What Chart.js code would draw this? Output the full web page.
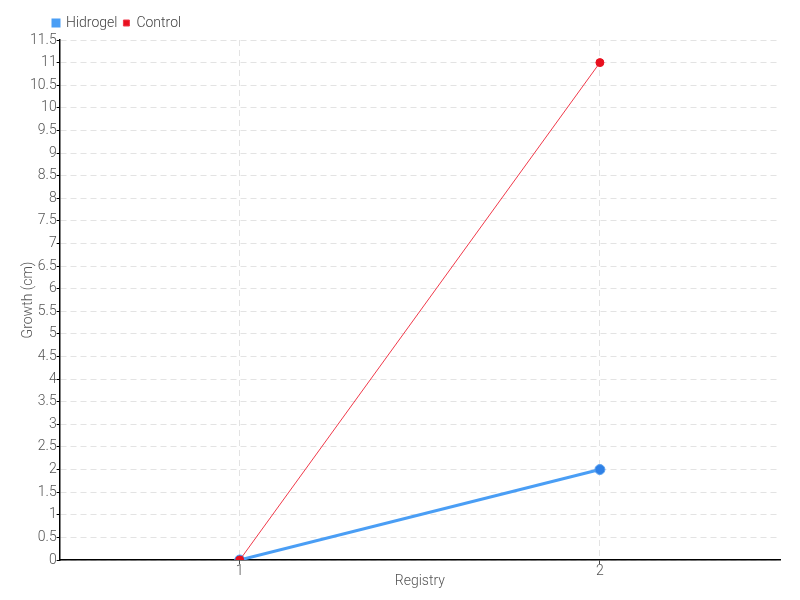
<!DOCTYPE html>
<html>
<head>
  <title>Growth</title>
  <script src="https://cdn.jsdelivr.net/npm/chart.js"></script>
  <style>
    body { margin: 0; background: #fff; }
    #wrap { width: 800px; height: 600px; }
  </style>
</head>
<body>
  <div id="wrap"><canvas id="growthChart" width="800" height="600"></canvas></div>
  <script>
    const registry = ['1', '2'];
    const hidrogel = [0, 2];
    const control = [0, 11];

    const font = "Roboto, 'Noto Sans', sans-serif";
    Chart.defaults.font.family = font;
    Chart.defaults.font.weight = 300;
    Chart.defaults.color = '#555';

    // nudge the legend to the right, like the original
    const legendShift = {
      id: 'legendShift',
      afterLayout(chart) {
        chart.legend.left += 26;
      }
    };

    const ctx = document.getElementById('growthChart').getContext('2d');
    new Chart(ctx, {
      type: 'line',
      data: {
        labels: registry,
        datasets: [{
          label: 'Hidrogel',
          data: hidrogel,
          borderColor: '#4a9ef5',
          backgroundColor: '#4a9ef5',
          borderWidth: 3,
          pointRadius: 5,
          pointBackgroundColor: '#2f80e6',
          pointBorderColor: '#5aa2f0',
          pointBorderWidth: 1,
          order: 1
        }, {
          label: 'Control',
          data: control,
          borderColor: '#f0394a',
          backgroundColor: '#e8101e',
          borderWidth: 1,
          pointRadius: 4,
          pointBackgroundColor: '#e8101e',
          pointBorderColor: '#e8101e',
          order: 0
        }]
      },
      options: {
        responsive: false,
        animation: false,
        layout: { padding: { left: 21, right: 20, top: 10, bottom: 12 } },
        plugins: {
          legend: {
            align: 'start',
            labels: {
              boxWidth: 6,
              boxHeight: 6,
              padding: 6,
              color: '#444',
              font: { size: 14 },
              sort: (a, b) => a.datasetIndex - b.datasetIndex
            }
          },
          tooltip: { enabled: false }
        },
        scales: {
          x: {
            offset: true,
            grid: {
              color: '#e3e3e3',
              tickColor: '#444',
              tickLength: 4,
              offset: false
            },
            border: { color: '#000', width: 1.5, dash: [6, 4] },
            ticks: { font: { size: 14, lineHeight: 1 }, color: '#555', padding: 0 },
            title: {
              display: true,
              text: 'Registry',
              font: { size: 14, lineHeight: 1 },
              color: '#555',
              padding: { top: -4, bottom: 0 }
            }
          },
          y: {
            min: 0,
            max: 11.5,
            ticks: {
              stepSize: 0.5,
              font: { size: 14 },
              color: '#555',
              padding: 0,
              callback: v => String(v)
            },
            grid: { color: '#e3e3e3', tickColor: '#000', tickLength: 3 },
            border: { color: '#000', width: 1.5, dash: [6, 4] },
            title: {
              display: true,
              text: 'Growth (cm)',
              font: { size: 14, lineHeight: 1 },
              color: '#555',
              padding: { top: 0, bottom: -5 }
            }
          }
        }
      },
      plugins: [legendShift]
    });
  </script>
</body>
</html>
